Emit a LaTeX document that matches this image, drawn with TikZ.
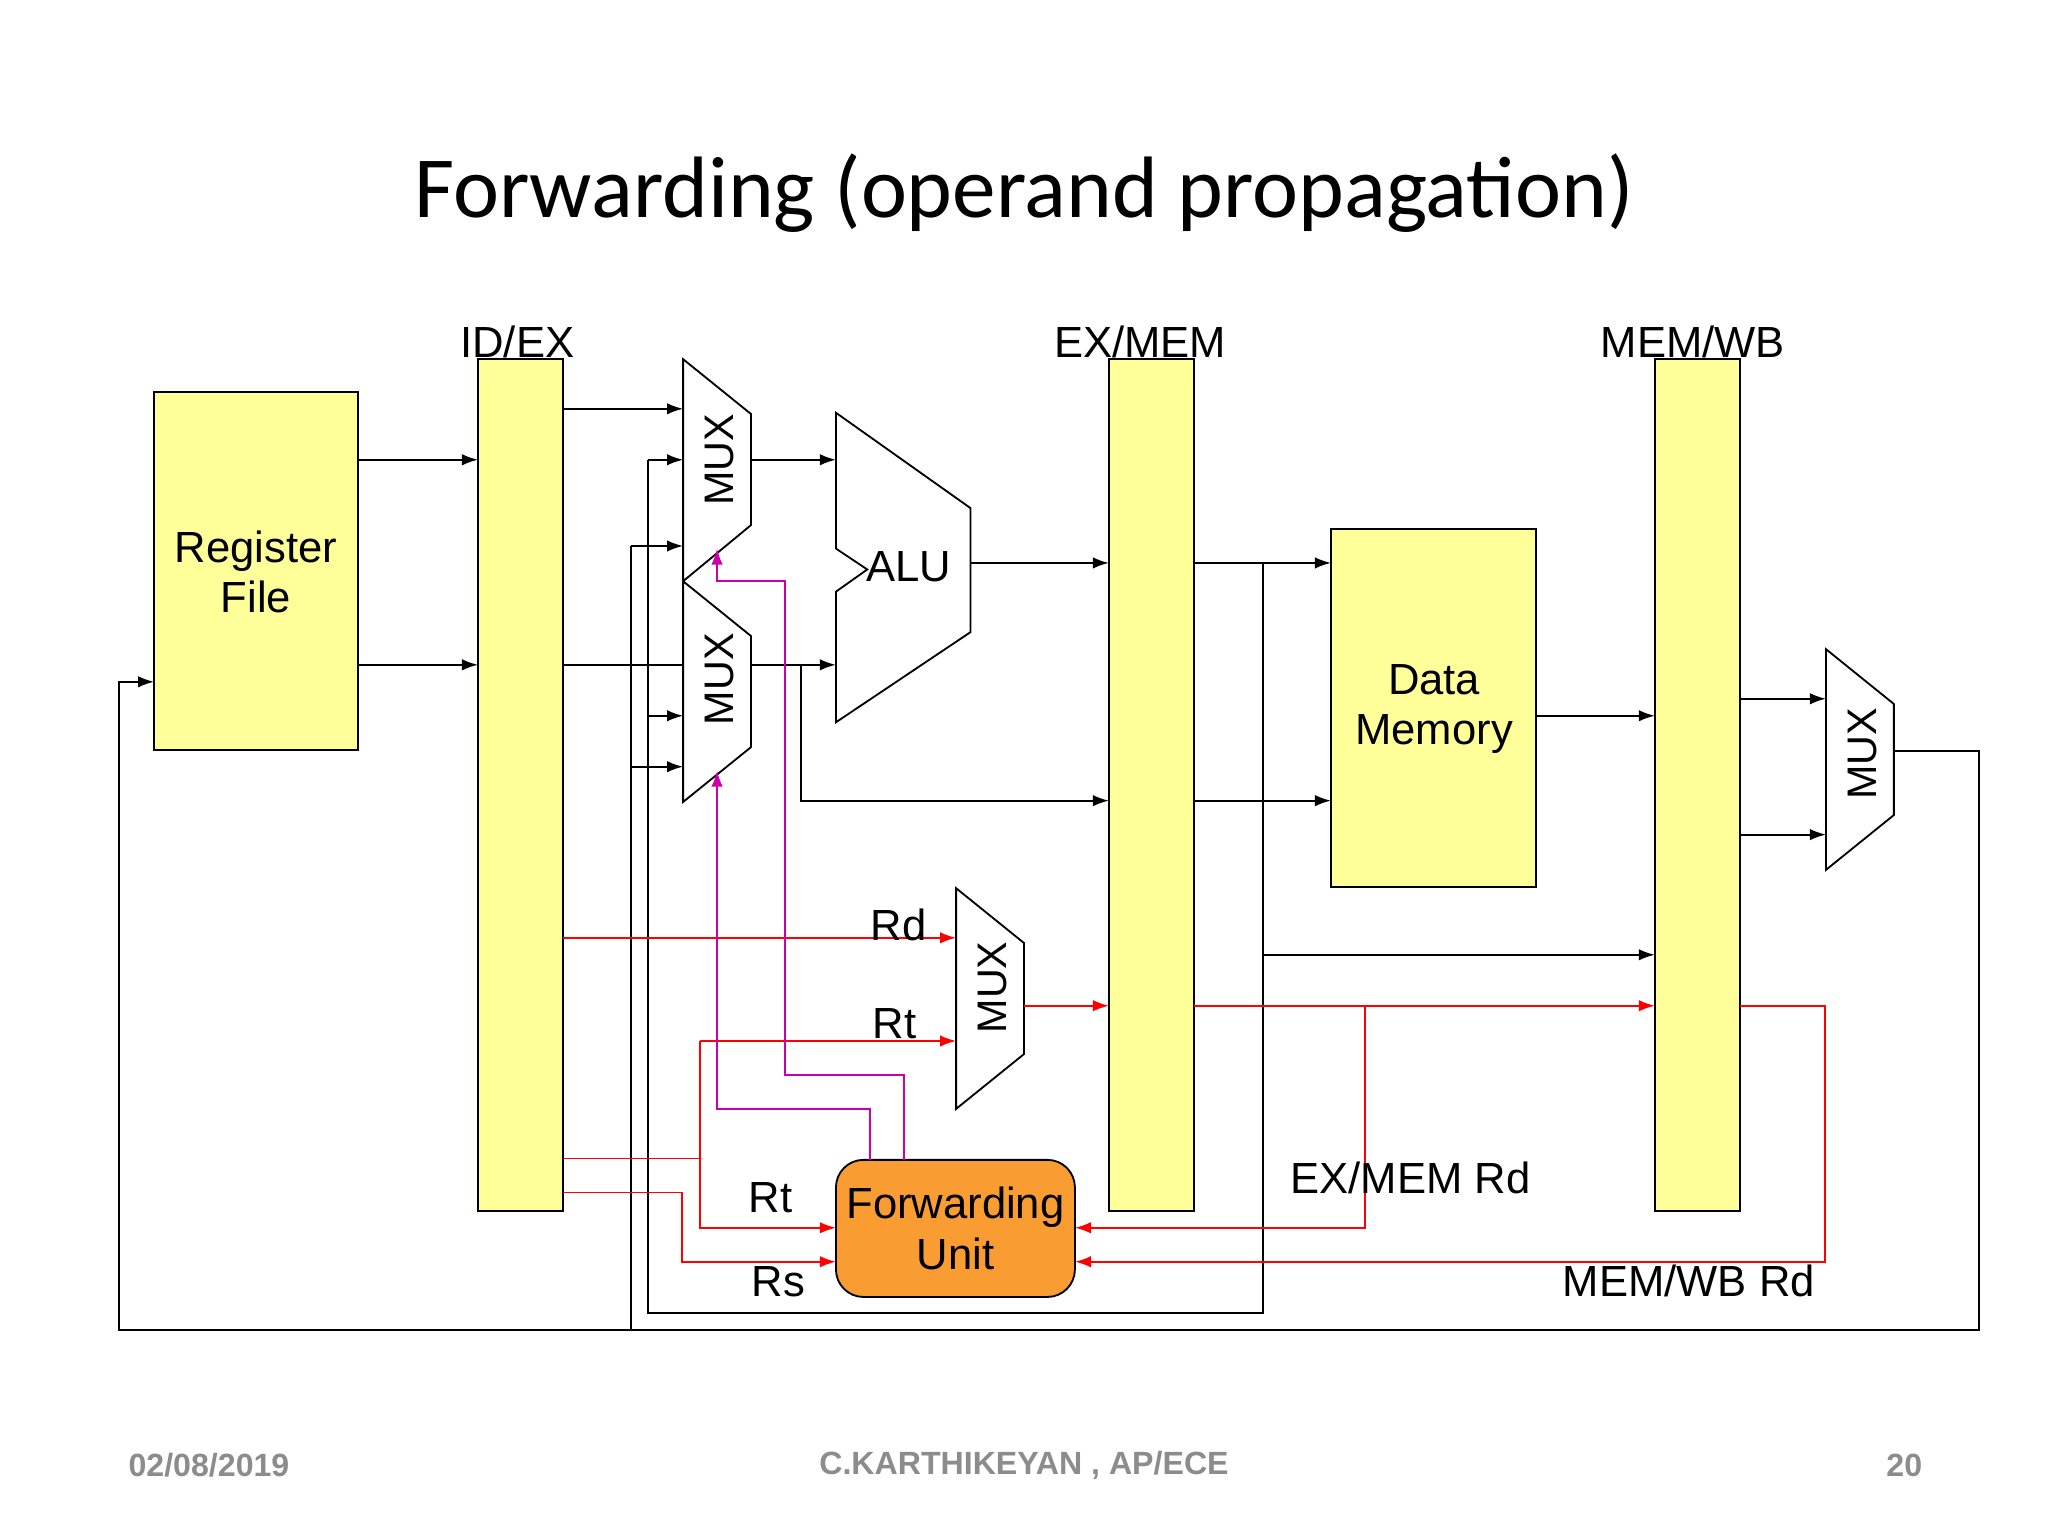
\documentclass[tikz,border=0pt]{standalone}
\usepackage{fontspec}
\setmainfont{Liberation Sans}
\newfontfamily\titlefont{Carlito}
\usetikzlibrary{arrows.meta}
\definecolor{ylw}{HTML}{FFFF99}
\definecolor{org}{HTML}{F99D33}
\definecolor{mag}{HTML}{CC00AA}
\definecolor{foot}{HTML}{8C8C8C}
\begin{document}
\begin{tikzpicture}[x=0.02cm,y=-0.02cm,
  blk/.style={draw,fill=ylw,line width=0.8pt},
  wire/.style={line width=0.8pt},
  arr/.style={wire,-{Latex[length=7pt,width=5pt]}},
  rarr/.style={arr,red},
  rwire/.style={wire,red},
  marr/.style={arr,mag},
  lbl/.style={font=\fontsize{19}{22}\selectfont},
  muxl/.style={font=\fontsize{18}{20}\selectfont,rotate=90},
  ft/.style={font=\bfseries\fontsize{14}{16}\selectfont,text=foot}]
\useasboundingbox (0,0) rectangle (1568,1176);
\node[font=\titlefont\fontsize{38}{44}\selectfont] (title) at (784,148) {Forwarding (operand propagation)};
% blocks
\draw[blk] (118,300) rectangle (274,574);
\node[lbl,align=center] (rf) at (196,438) {Register\\File};
\draw[blk] (366,275) rectangle (431,927);
\node[lbl] (idex) at (396,262) {ID/EX};
\draw[blk] (849,275) rectangle (914,927);
\node[lbl] (exmem) at (873,262) {EX/MEM};
\draw[blk] (1267,275) rectangle (1332,927);
\node[lbl] (memwb) at (1296,262) {MEM/WB};
\draw[blk] (1019,405) rectangle (1176,679);
\node[lbl,align=center] (dm) at (1098,543) {Data\\Memory};
% muxes
\draw[wire,fill=white] (523,275)--(575,317)--(575,402)--(523,445)--cycle;
\node[muxl] (m1) at (551,352) {MUX};
\draw[wire,fill=white] (523,445)--(575,487)--(575,572)--(523,614)--cycle;
\node[muxl] (m2) at (551,520) {MUX};
\draw[wire,fill=white] (732,680)--(784,722)--(784,807)--(732,849)--cycle;
\node[muxl] (m3) at (760,756) {MUX};
\draw[wire,fill=white] (1398,497)--(1450,539)--(1450,624)--(1398,666)--cycle;
\node[muxl] (m4) at (1426,577) {MUX};
% ALU
\draw[wire] (640,316)--(743,389)--(743,484)--(640,553)--(640,453)--(664,436)--(640,420)--cycle;
\node[lbl] (alu) at (696,434) {ALU};
% forwarding unit
\node[draw,fill=org,rounded corners=12pt,minimum width=183\pgflinewidth,line width=0.8pt,
  minimum width=3.66cm,minimum height=2.1cm,lbl,align=center] (fu) at (731.5,940.5) {Forwarding\\Unit};
% black wires
\draw[arr] (431,313)--(523,313);
\draw[arr] (274,352)--(366,352);
\draw[arr] (274,509)--(366,509);
\draw[wire] (431,509)--(523,509);
\draw[arr] (575,352)--(640,352);
\draw[arr] (575,509)--(640,509);
\draw[arr] (613,509)--(613,613)--(849,613);
\draw[arr] (743,431)--(849,431);
\draw[arr] (914,431)--(1019,431);
\draw[arr] (914,613)--(1019,613);
\draw[arr] (1176,548)--(1267,548);
\draw[wire] (967,431)--(967,1005)--(496,1005)--(496,352);
\draw[arr] (967,731)--(1267,731);
\draw[arr] (496,352)--(523,352);
\draw[arr] (496,548)--(523,548);
\draw[arr] (1332,535)--(1398,535);
\draw[arr] (1332,639)--(1398,639);
\draw[arr] (1450,575)--(1515,575)--(1515,1018)--(91,1018)--(91,522)--(118,522);
\draw[wire] (483,1018)--(483,418);
\draw[arr] (483,418)--(523,418);
\draw[arr] (483,587)--(523,587);
% red wires
\draw[rarr] (431,718)--(732,718);
\node[lbl] (rd) at (688,708) {Rd};
\draw[rarr] (536,797)--(732,797);
\node[lbl] (rt1) at (685,784) {Rt};
\draw[rwire] (431,887)--(536,887);
\draw[rarr] (536,797)--(536,940)--(640,940);
\node[lbl] (rt2) at (590,917) {Rt};
\draw[rarr] (431,913)--(522,913)--(522,966)--(640,966);
\node[lbl] (rs) at (596,981) {Rs};
\draw[rarr] (784,770)--(849,770);
\draw[rarr] (914,770)--(1267,770);
\draw[rarr] (1045,770)--(1045,940)--(823,940);
\node[lbl] (exrd) at (1080,902) {EX/MEM Rd};
\draw[rarr] (1332,770)--(1397,770)--(1397,966)--(823,966);
\node[lbl] (wbrd) at (1293,981) {MEM/WB Rd};
% magenta
\draw[marr] (692,888)--(692,823)--(601,823)--(601,445)--(549,445)--(549,420);
\draw[marr] (666,888)--(666,849)--(549,849)--(549,590);
% footer
\node[ft] (date) at (160,1122) {02/08/2019};
\node[ft] (auth) at (784,1122) {C.KARTHIKEYAN , AP/ECE};
\node[ft] (page) at (1458,1122) {20};
\end{tikzpicture}
\end{document}
